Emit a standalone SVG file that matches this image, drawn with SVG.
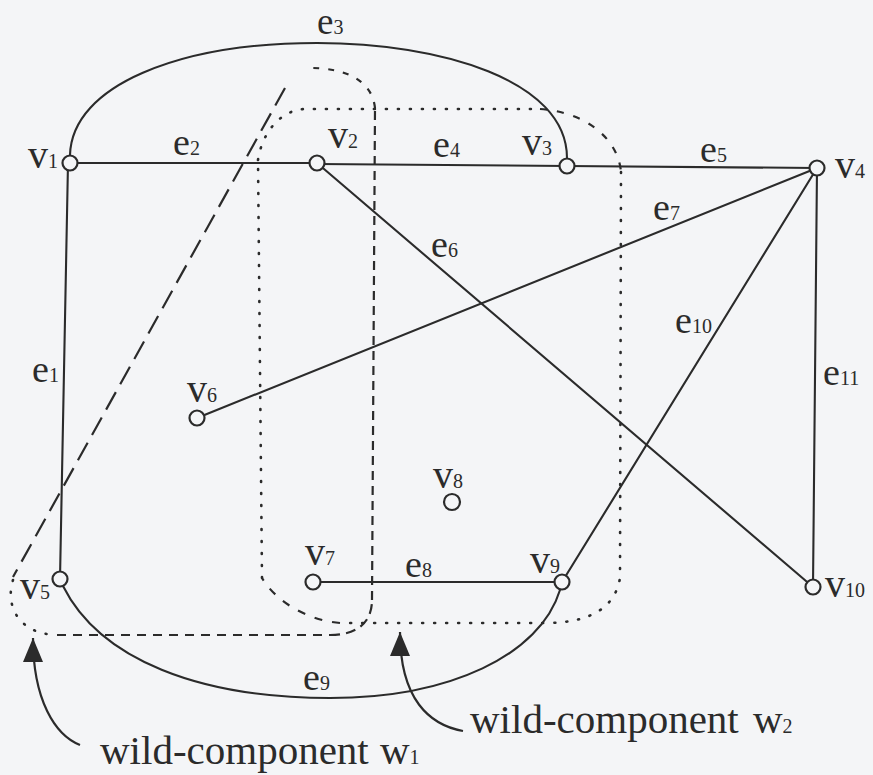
<svg xmlns="http://www.w3.org/2000/svg" width="873" height="775" viewBox="0 0 873 775">
<defs>
<style>
.edge{fill:none;stroke:#2b2b2b;stroke-width:2.1;stroke-linecap:round}
.w1{fill:none;stroke:#2b2b2b;stroke-width:2.2;stroke-linecap:butt}
.w2{fill:none;stroke:#2b2b2b;stroke-width:2.6;stroke-linecap:round}
.vx{fill:#f4f5f7;stroke:#2b2b2b;stroke-width:2.2}
.lbl{font-family:"Liberation Serif","Times New Roman",serif;fill:#2b2b2b}
.e{font-size:38px}
.v{font-size:40px}
.s{font-size:20px}
.big{font-size:41px}
.arr{fill:none;stroke:#2b2b2b;stroke-width:2.2}
</style>
<marker id="ah" viewBox="0 0 24 20" refX="24" refY="10" markerWidth="24" markerHeight="20" markerUnits="userSpaceOnUse" orient="auto">
<path d="M0,0 L24,10 L0,20 z" fill="#2b2b2b"/>
</marker>
</defs>
<rect width="873" height="775" fill="#f4f5f7"/>

<g id="wild-components">
<g id="w1">
<path class="w1" d="M285,88 L13,577" stroke-dasharray="20 9"/>
<path class="w2" d="M13,580 C5,605 18,634 57,635" stroke-dasharray="1 11"/>
<path class="w1" d="M57,635 L330,635" stroke-dasharray="9 7"/>
<path class="w1" d="M330,635 C360,635 372,620 372,600" stroke-dasharray="10 6"/>
<path class="w1" d="M372,600 L375,108" stroke-dasharray="9 6"/>
<path class="w1" d="M375,108 C372,80 345,67 305,68" stroke-dasharray="6 9"/>
</g>
<g id="w2">
<path class="w2" d="M258,160 C262,133 280,110 305,109 L540,109" stroke-dasharray="1 11"/>
<path class="w1" d="M540,109 C585,112 618,138 621,172" stroke-dasharray="7 10"/>
<path class="w2" d="M621,172 L620,578 C615,608 590,623 545,623 L340,623" stroke-dasharray="1 11"/>
<path class="w1" d="M340,623 C305,620 275,600 262,578" stroke-dasharray="8 10"/>
<path class="w2" d="M262,578 L258,160" stroke-dasharray="1 11"/>
</g>
</g>

<g id="edges">
<line class="edge" x1="68" y1="163" x2="60" y2="579"/>
<line class="edge" x1="70" y1="163" x2="317" y2="163"/>
<path class="edge" d="M70,155 C72,85 180,43 317,43 C440,43 567,80 567,158"/>
<line class="edge" x1="317" y1="164" x2="567" y2="166"/>
<line class="edge" x1="567" y1="166" x2="817" y2="168"/>
<line class="edge" x1="317" y1="163" x2="813" y2="587"/>
<line class="edge" x1="197" y1="418" x2="817" y2="168"/>
<line class="edge" x1="313" y1="582" x2="562" y2="582"/>
<path class="edge" d="M63,586 C100,660 200,698 330,698 C450,698 540,655 560,590"/>
<line class="edge" x1="562" y1="582" x2="817" y2="168"/>
<line class="edge" x1="817" y1="168" x2="813" y2="587"/>
</g>

<g id="edge-labels" class="lbl e">
<text x="32" y="382">e<tspan class="s">1</tspan></text>
<text x="173" y="155">e<tspan class="s">2</tspan></text>
<text x="317" y="34" font-size="37">e<tspan class="s">3</tspan></text>
<text x="433" y="157">e<tspan class="s">4</tspan></text>
<text x="700" y="162">e<tspan class="s">5</tspan></text>
<text x="431" y="257">e<tspan class="s">6</tspan></text>
<text x="653" y="220">e<tspan class="s">7</tspan></text>
<text x="405" y="577">e<tspan class="s">8</tspan></text>
<text x="303" y="690">e<tspan class="s">9</tspan></text>
<text x="675" y="333">e<tspan class="s">10</tspan></text>
<text x="823" y="385">e<tspan class="s">11</tspan></text>
</g>

<g id="v1"><circle class="vx" cx="70" cy="163" r="7.5"/><text class="lbl v" x="28" y="168">v<tspan class="s">1</tspan></text></g>
<g id="v2"><circle class="vx" cx="317" cy="163" r="7.5"/><text class="lbl v" x="328" y="148">v<tspan class="s">2</tspan></text></g>
<g id="v3"><circle class="vx" cx="567" cy="166" r="7.5"/><text class="lbl v" x="522" y="155">v<tspan class="s">3</tspan></text></g>
<g id="v4"><circle class="vx" cx="817" cy="168" r="7.5"/><text class="lbl v" x="835" y="178">v<tspan class="s">4</tspan></text></g>
<g id="v5"><circle class="vx" cx="60" cy="579" r="7.5"/><text class="lbl v" x="20" y="599">v<tspan class="s">5</tspan></text></g>
<g id="v6"><circle class="vx" cx="197" cy="418" r="7.5"/><text class="lbl v" x="187" y="402">v<tspan class="s">6</tspan></text></g>
<g id="v7"><circle class="vx" cx="313" cy="582" r="7.5"/><text class="lbl v" x="305" y="565">v<tspan class="s">7</tspan></text></g>
<g id="v8"><circle class="vx" cx="452" cy="502" r="8"/><text class="lbl v" x="433" y="488">v<tspan class="s">8</tspan></text></g>
<g id="v9"><circle class="vx" cx="562" cy="582" r="7.5"/><text class="lbl v" x="530" y="573">v<tspan class="s">9</tspan></text></g>
<g id="v10"><circle class="vx" cx="813" cy="587" r="7.5"/><text class="lbl v" x="825" y="597">v<tspan class="s">10</tspan></text></g>

<g id="callouts">
<path class="arr" d="M80,745 C55,735 33,700 33,638" marker-end="url(#ah)"/>
<path class="arr" d="M463,731 C430,725 400,700 400,632" marker-end="url(#ah)"/>
<text class="lbl big" x="100" y="764">wild-component<tspan x="380">w</tspan><tspan class="s" font-size="22">1</tspan></text>
<text class="lbl big" x="470" y="733">wild-component<tspan x="753">w</tspan><tspan class="s" font-size="24">2</tspan></text>
</g>
</svg>
